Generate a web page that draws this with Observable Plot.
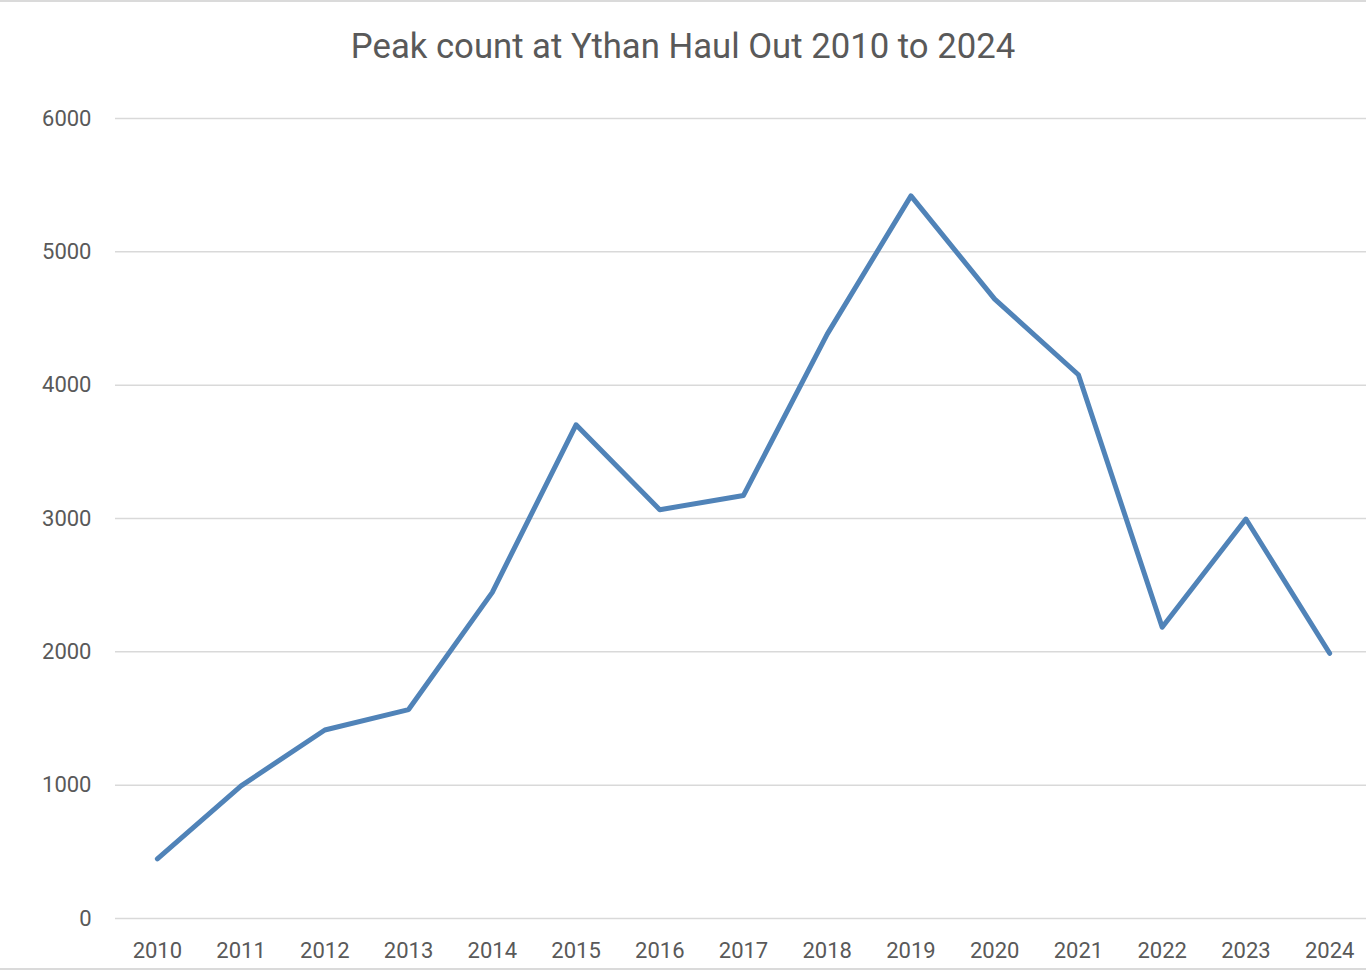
<!DOCTYPE html>
<html>
<head>
<meta charset="utf-8">
<script src="https://cdn.jsdelivr.net/npm/d3@7"></script>
<script src="https://cdn.jsdelivr.net/npm/@observablehq/plot@0.6"></script>
<style>
  html, body { margin: 0; padding: 0; background: #fff; }
  #wrap { position: relative; width: 1366px; height: 970px; box-sizing: border-box; border-top: 2px solid #dadada; border-bottom: 2px solid #dadada; overflow: hidden; font-family: Roboto, "Open Sans", sans-serif; }
  #title { position: absolute; left: 0; top: 24px; width: 1366px; text-align: center; font-size: 34.7px; line-height: 40px; color: #595959; }
  #chart { position: absolute; left: 0; top: 88px; }
</style>
</head>
<body>
<div id="wrap">
  <div id="title">Peak count at Ythan Haul Out 2010 to 2024</div>
  <div id="chart"></div>
</div>
<script>
const years = ["2010","2011","2012","2013","2014","2015","2016","2017","2018","2019","2020","2021","2022","2023","2024"];
const counts = [447, 995, 1414, 1567, 2446, 3703, 3066, 3173, 4383, 5420, 4645, 4078, 2184, 2996, 1989];
const yTicks = [0, 1000, 2000, 3000, 4000, 5000, 6000];

const data = years.map((y, i) => ({year: y, count: counts[i]}));

const chart = Plot.plot({
  width: 1366,
  height: 880,
  marginTop: 28,
  marginBottom: 52,
  marginLeft: 115,
  marginRight: 0,
  style: {fontFamily: "Roboto, 'Open Sans', sans-serif", fontSize: "22px", color: "#595959", background: "transparent", overflow: "hidden"},
  x: {type: "point", domain: years, padding: 0.5, round: false, range: [115, 1371], label: null},
  y: {domain: [0, 6000], ticks: yTicks, label: null},
  marks: [
    Plot.gridY(yTicks, {stroke: "#d9d9d9", strokeOpacity: 1, strokeWidth: 1.5}),
    Plot.axisY(yTicks, {tickSize: 0, tickPadding: 24, tickFormat: d => String(d), fill: "#595959", fontSize: 22, label: null}),
    Plot.axisX(years, {tickSize: 0, tickPadding: 24, fill: "#595959", fontSize: 22, label: null}),
    Plot.line(data, {x: "year", y: "count", stroke: "#5083b8", strokeWidth: 5, strokeLinejoin: "round", strokeLinecap: "round"})
  ]
});
document.getElementById("chart").appendChild(chart);
</script>
</body>
</html>
